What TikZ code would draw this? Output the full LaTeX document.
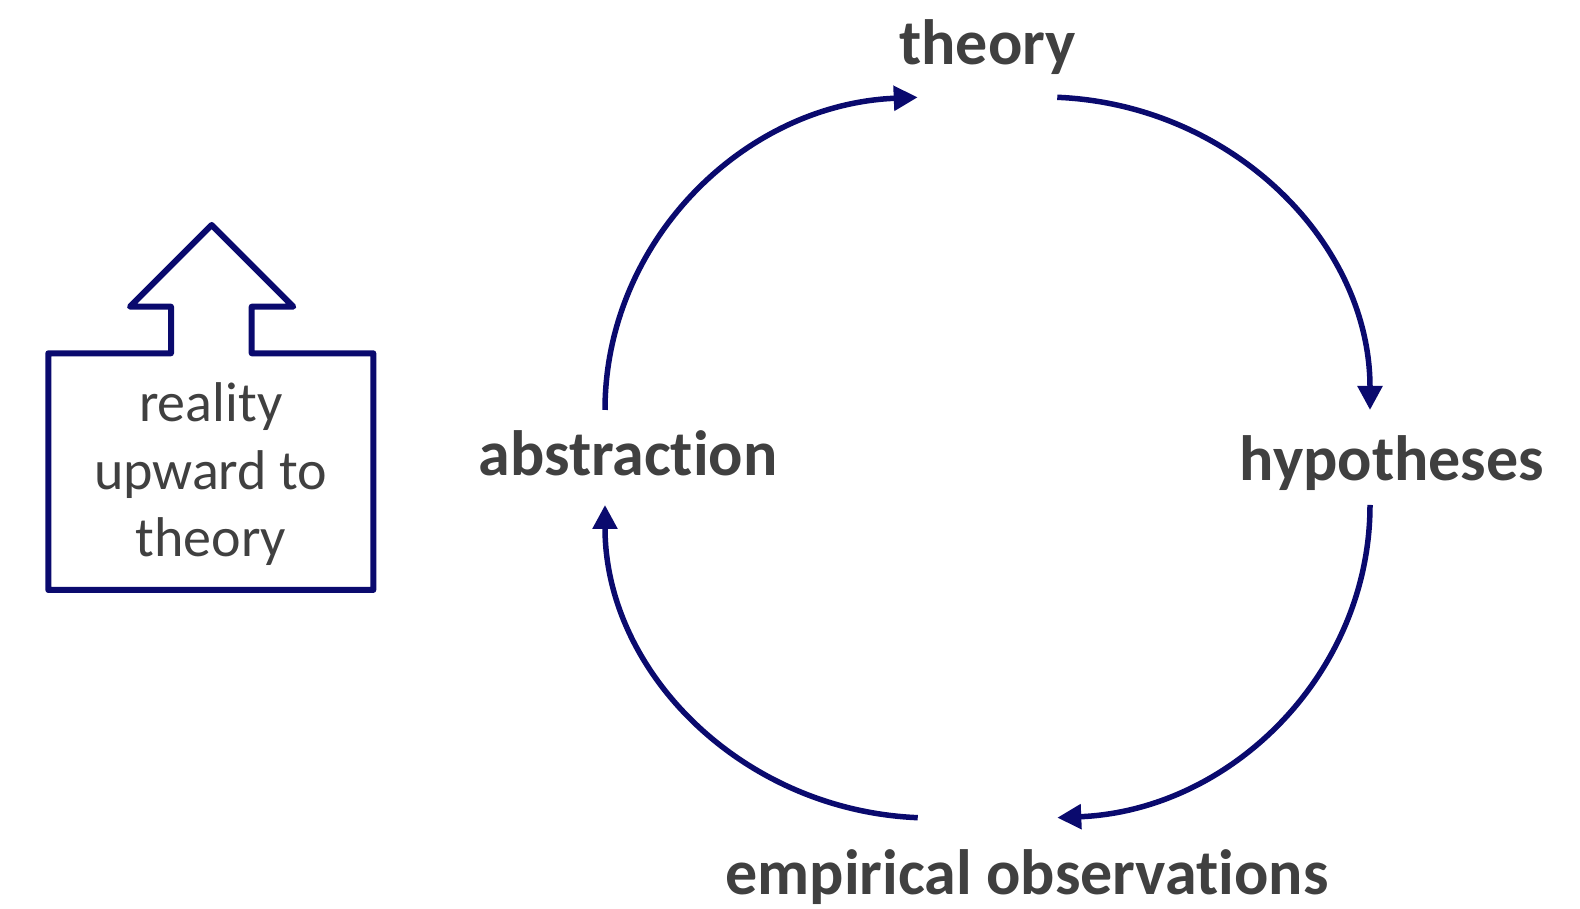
\documentclass[tikz,border=0pt]{standalone}
\usepackage{fontspec}
\setmainfont[Ligatures=NoCommon]{Carlito}
\usetikzlibrary{arrows.meta,calc}
\definecolor{navy}{RGB}{10,10,110}
\definecolor{txt}{RGB}{64,64,64}
\tikzset{
  lbl/.style={inner sep=0pt, anchor=base, text=txt, font=\fontsize{64}{72}\selectfont\bfseries},
  cyc/.style={draw=navy, line width=5.5pt, -{Triangle[length=24pt,width=24pt]}},
  blockarrow/.style={draw=navy, line width=6pt, line join=round},
  boxtext/.style={inner sep=0pt, anchor=base, text=txt, font=\fontsize{56}{68}\selectfont}
}
\begin{document}
\begin{tikzpicture}[x=1pt,y=1pt]
\useasboundingbox (0,0) rectangle (1580,909);
% labels
\node[lbl] (theory) at (987.6,844.5) {theory};
\node[lbl] (abstraction) at (628,433.4) {abstraction};
\node[lbl] (hypotheses) at (1392,428.3) {hypotheses};
\node[lbl] (empirical) at (1027,14) {empirical observations};
% cycle
\coordinate (tl) at (932,499);
\coordinate (tr) at (1043,499);
\coordinate (br) at (1043,404);
\coordinate (bl) at (932,404);
\draw[cyc] ($(tl)+(180:327 and 313)$) arc[start angle=180, end angle=92.5, x radius=327, y radius=313];
\draw[cyc] ($(tr)+(87.5:327 and 313)$) arc[start angle=87.5, end angle=0, x radius=327, y radius=313];
\draw[cyc] ($(br)+(0:327 and 313)$) arc[start angle=0, end angle=-87.5, x radius=327, y radius=313];
\draw[cyc] ($(bl)+(-92.5:327 and 313)$) arc[start angle=-92.5, end angle=-180, x radius=327, y radius=313];
% block arrow
\draw[blockarrow] (211.7,684) -- (293.3,602.3) -- (251.7,602.3) -- (251.7,555.7)
  -- (373.3,555.7) -- (373.3,319) -- (48.3,319) -- (48.3,555.7) -- (171,555.7)
  -- (171,602.3) -- (130,602.3) -- cycle;
\node[boxtext] (b1) at (210.8,487.3) {reality};
\node[boxtext] (b2) at (210.8,419) {upward to};
\node[boxtext] (b3) at (210.8,352.3) {theory};
\end{tikzpicture}
\end{document}
